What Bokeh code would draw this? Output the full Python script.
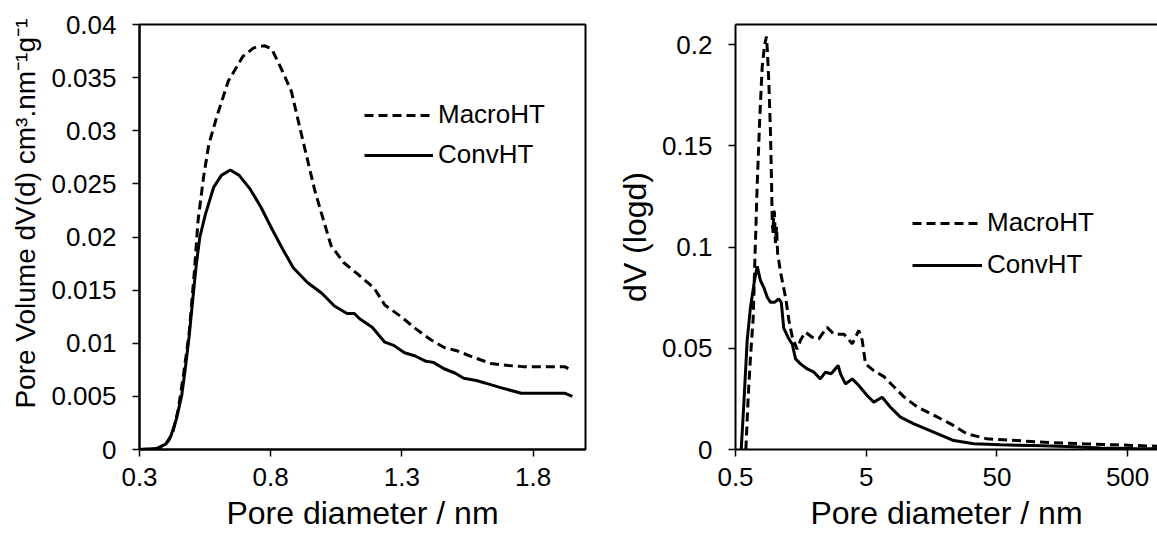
from bokeh.plotting import figure
from bokeh.models import (FixedTicker, Legend, LegendItem, LogAxis, Range1d)
from bokeh.layouts import row
from bokeh.embed import file_html
from bokeh.resources import INLINE

# ---------------- data ----------------
# Left panel: dV(d) vs pore diameter (nm)
L_MACRO_X = [0.30, 0.35, 0.37, 0.39, 0.41, 0.427, 0.448, 0.468, 0.489, 0.509, 0.523, 0.544, 0.564,
             0.598, 0.639, 0.694, 0.735, 0.776, 0.804, 0.845, 0.879, 0.913, 0.941, 0.968, 0.995,
             1.030, 1.078, 1.132, 1.194, 1.235, 1.297, 1.351, 1.406, 1.461, 1.509, 1.570, 1.639,
             1.707, 1.762, 1.92, 1.95]
L_MACRO_Y = [0.0, 0.00005, 0.0001, 0.0003, 0.0008, 0.0016, 0.0038, 0.0071, 0.0109, 0.0167, 0.0215,
             0.0256, 0.0287, 0.0316, 0.0347, 0.0370, 0.0378, 0.0380, 0.0377, 0.0356, 0.0337, 0.0301,
             0.0272, 0.0244, 0.0221, 0.0192, 0.0176, 0.0165, 0.0152, 0.0136, 0.0125, 0.0114, 0.0104,
             0.0096, 0.0093, 0.0087, 0.0081, 0.0079, 0.0078, 0.0078, 0.0074]
L_CONV_X = [0.30, 0.366, 0.40, 0.42, 0.441, 0.461, 0.475, 0.489, 0.503, 0.516, 0.53, 0.552, 0.583,
            0.612, 0.646, 0.68, 0.722, 0.763, 0.804, 0.845, 0.886, 0.941, 0.995, 1.043, 1.091,
            1.119, 1.139, 1.187, 1.235, 1.269, 1.31, 1.351, 1.392, 1.42, 1.461, 1.502, 1.536,
            1.584, 1.625, 1.68, 1.755, 1.92, 1.95]
L_CONV_Y = [0.0, 0.0001, 0.0005, 0.0013, 0.0029, 0.0051, 0.0077, 0.0106, 0.0141, 0.0173, 0.0200,
            0.0222, 0.0247, 0.0258, 0.0263, 0.0258, 0.0245, 0.0228, 0.0208, 0.0189, 0.0171, 0.0157,
            0.0147, 0.0135, 0.0128, 0.0128, 0.0123, 0.0115, 0.0101, 0.0098, 0.0091, 0.0088, 0.0083,
            0.0082, 0.0076, 0.0072, 0.0067, 0.0065, 0.0062, 0.0058, 0.0053, 0.0053, 0.0050]

# Right panel: dV (logd) vs pore diameter (nm, log axis)
R_MACRO_X = [0.60, 0.63, 0.651, 0.683, 0.703, 0.733, 0.767, 0.80, 0.835, 0.863, 0.88, 0.90, 0.927,
             0.944, 0.955, 0.97, 0.98, 0.994, 1.01, 1.03, 1.05, 1.11, 1.21, 1.28, 1.36, 1.48, 1.57,
             1.71, 1.93, 2.17, 2.51, 2.83, 3.38, 3.91, 4.39, 4.66, 4.94, 5.71, 6.83, 8.15, 9.72,
             12.3, 16.4, 22.1, 29.4, 41.9, 71, 128, 231, 416, 850]
R_MACRO_Y = [0.0, 0.030, 0.0456, 0.065, 0.093, 0.131, 0.164, 0.189, 0.200, 0.204, 0.195, 0.181,
             0.156, 0.131, 0.113, 0.107, 0.118, 0.117, 0.102, 0.110, 0.097, 0.087, 0.075, 0.064,
             0.0555, 0.0495, 0.054, 0.058, 0.0555, 0.0547, 0.0604, 0.057, 0.057, 0.0522, 0.0588,
             0.054, 0.0423, 0.039, 0.036, 0.031, 0.026, 0.021, 0.017, 0.0127, 0.0078, 0.0053,
             0.0044, 0.0034, 0.0028, 0.0023, 0.0016]
R_CONV_X = [0.553, 0.579, 0.614, 0.651, 0.699, 0.733, 0.776, 0.824, 0.875, 0.927, 0.994, 1.07, 1.12,
            1.17, 1.26, 1.36, 1.44, 1.57, 1.77, 1.99, 2.23, 2.44, 2.70, 3.05, 3.18, 3.47, 3.91,
            4.39, 5.08, 5.71, 6.62, 7.67, 9.14, 11.6, 16.4, 23.4, 33.3, 53, 95, 174, 309, 550, 850]
R_CONV_Y = [0.0, 0.0226, 0.0538, 0.0703, 0.0835, 0.0905, 0.0835, 0.080, 0.0752, 0.0727, 0.0727,
            0.0744, 0.0727, 0.060, 0.0555, 0.052, 0.0448, 0.0423, 0.0398, 0.0382, 0.0349, 0.0382,
            0.0374, 0.0415, 0.0374, 0.0324, 0.0349, 0.0316, 0.0267, 0.0234, 0.0258, 0.0209, 0.016,
            0.0127, 0.0086, 0.0044, 0.0028, 0.0023, 0.002, 0.0015, 0.0008, 0.0005, 0.0004]

# tick labels
L_XTICKS = [0.3, 0.8, 1.3, 1.8]
L_XLABELS = ["0.3", "0.8", "1.3", "1.8"]
L_YTICKS = [0, 0.005, 0.01, 0.015, 0.02, 0.025, 0.03, 0.035, 0.04]
L_YLABELS = ["0", "0.005", "0.01", "0.015", "0.02", "0.025", "0.03", "0.035", "0.04"]
R_XTICKS = [0.5, 5, 50, 500]
R_XLABELS = ["0.5", "5", "50", "500"]
R_YTICKS = [0, 0.05, 0.1, 0.15, 0.2]
R_YLABELS = ["0", "0.05", "0.1", "0.15", "0.2"]

SERIES = ["MacroHT", "ConvHT"]
X_TITLE = "Pore diameter / nm"
L_Y_TITLE = "Pore Volume dV(d) cm\u00b3.nm\u207b\u00b9g\u207b\u00b9"
R_Y_TITLE = "dV (logd)"

FONT = "Liberation Sans"
TICK_PX = "26px"


def style_axis(ax, standoff):
    ax.axis_line_color = "black"
    ax.axis_line_width = 2
    ax.major_tick_line_color = "black"
    ax.major_tick_line_width = 1.5
    ax.major_tick_out = 7
    ax.major_tick_in = 0
    ax.minor_tick_line_color = None
    ax.major_label_text_font = FONT
    ax.major_label_text_font_size = TICK_PX
    ax.major_label_text_color = "black"
    ax.major_label_standoff = standoff


def style_title(ax, text, size, standoff, line_height=None):
    ax.axis_label = text
    ax.axis_label_text_font = FONT
    ax.axis_label_text_font_size = size
    ax.axis_label_text_font_style = "normal"
    ax.axis_label_text_color = "black"
    ax.axis_label_standoff = standoff
    if line_height is not None:
        ax.axis_label_text_line_height = line_height


def add_lines_and_legend(p, mx, my, cx, cy, loc, spacing, gw):
    r1 = p.line(mx, my, line_color="black", line_width=3, line_dash="9 5")
    r2 = p.line(cx, cy, line_color="black", line_width=3)
    leg = Legend(items=[LegendItem(label=SERIES[0], renderers=[r1]),
                        LegendItem(label=SERIES[1], renderers=[r2])],
                 location=loc, orientation="vertical",
                 label_text_font=FONT, label_text_font_size=TICK_PX, label_text_color="black",
                 glyph_width=gw, glyph_height=30, label_height=30, label_standoff=5,
                 spacing=spacing, padding=0, margin=0,
                 border_line_color=None, background_fill_alpha=0)
    p.add_layout(leg)


# ---------------- left figure ----------------
p1 = figure(width=600, height=533, output_backend="svg", toolbar_location=None,
            x_range=Range1d(0.3, 2.0), y_range=Range1d(0, 0.04),
            min_border_left=139, min_border_right=15, min_border_top=24, min_border_bottom=84)
p1.xgrid.visible = False
p1.ygrid.visible = False
p1.outline_line_color = "black"
p1.outline_line_width = 2
p1.background_fill_color = "white"
p1.border_fill_color = "white"

p1.xaxis.ticker = FixedTicker(ticks=L_XTICKS)
p1.xaxis.major_label_overrides = dict(zip(L_XTICKS, L_XLABELS))
p1.yaxis.ticker = FixedTicker(ticks=L_YTICKS)
p1.yaxis.major_label_overrides = dict(zip(L_YTICKS, L_YLABELS))
style_axis(p1.xaxis[0], 11)
style_axis(p1.yaxis[0], 16)
style_title(p1.xaxis[0], X_TITLE, "32px", 6, 0.8)
style_title(p1.yaxis[0], "\u00a0" * 6 + L_Y_TITLE, "28px", 7)

add_lines_and_legend(p1, L_MACRO_X, L_MACRO_Y, L_CONV_X, L_CONV_Y, (225, 279), 9, 69)

# ---------------- right figure ----------------
p2 = figure(width=557, height=533, output_backend="svg", toolbar_location=None,
            x_axis_type="log", x_range=Range1d(0.5, 847), y_range=Range1d(0, 0.21),
            min_border_left=135, min_border_right=0, min_border_top=24, min_border_bottom=84)
p2.xgrid.visible = False
p2.ygrid.visible = False
p2.outline_line_color = None
p2.background_fill_color = "white"
p2.border_fill_color = "white"

p2.xaxis.ticker = FixedTicker(ticks=R_XTICKS)
p2.xaxis.major_label_overrides = dict(zip(R_XTICKS, R_XLABELS))
p2.yaxis.ticker = FixedTicker(ticks=R_YTICKS)
p2.yaxis.major_label_overrides = dict(zip(R_YTICKS, R_YLABELS))
style_axis(p2.xaxis[0], 11)
style_axis(p2.yaxis[0], 16)
style_title(p2.xaxis[0], X_TITLE, "32px", 6, 0.8)
style_title(p2.yaxis[0], R_Y_TITLE, "32px", 6)

top_axis = LogAxis(ticker=FixedTicker(ticks=[]), axis_line_color="black", axis_line_width=2,
                   major_tick_line_color=None, minor_tick_line_color=None,
                   major_label_text_font_size="0px")
p2.add_layout(top_axis, "above")

add_lines_and_legend(p2, R_MACRO_X, R_MACRO_Y, R_CONV_X, R_CONV_Y, (177, 169), 11, 70)

layout = row(p1, p2, spacing=0)
open("out.html", "w").write(file_html(layout, INLINE))
